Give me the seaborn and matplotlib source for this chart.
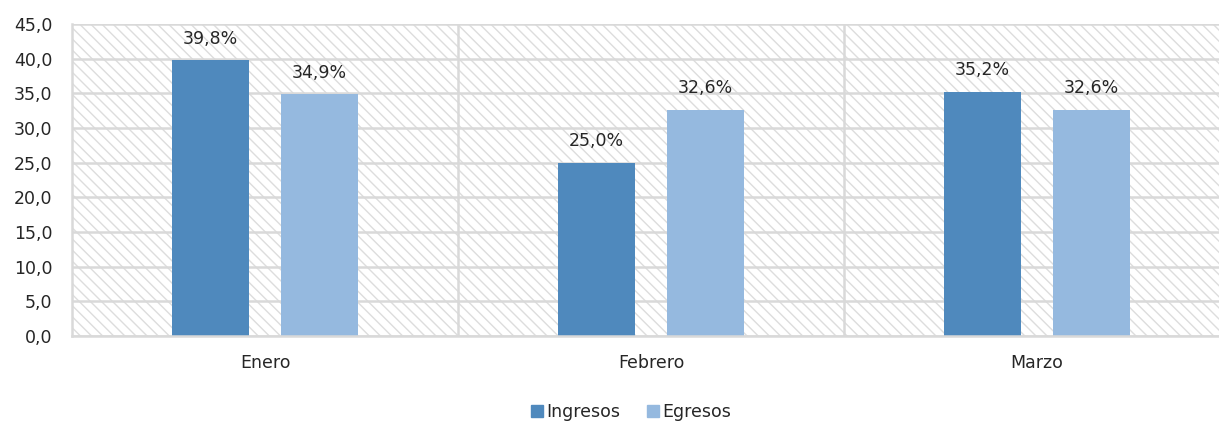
"""Ingresos vs Egresos por mes (barras agrupadas con fondo rayado)."""

import matplotlib
matplotlib.use("Agg")
import matplotlib.pyplot as plt
from matplotlib.patches import Rectangle
from matplotlib.ticker import FuncFormatter, MultipleLocator
import pandas as pd
import seaborn as sns

MESES = ["Enero", "Febrero", "Marzo"]
INGRESOS = [39.8, 25.0, 35.2]
EGRESOS = [34.9, 32.6, 32.6]
SERIES = ["Ingresos", "Egresos"]
PALETTE = {"Ingresos": "#4F89BD", "Egresos": "#95B9DF"}
GRID = "#D9D9D9"
FS = 12.5

sns.set_theme(style="white")
plt.rcParams["font.family"] = ["DejaVu Sans"]
plt.rcParams["hatch.linewidth"] = 1.0


def coma(v, _=None):
    return f"{v:.1f}".replace(".", ",")


def main():
    df = pd.DataFrame({
        "mes": MESES * 2,
        "serie": ["Ingresos"] * len(MESES) + ["Egresos"] * len(MESES),
        "valor": INGRESOS + EGRESOS,
    })

    fig = plt.figure(figsize=(12.19, 4.24), dpi=100)
    # el area del grafico se sale por la derecha, como en el original
    ax = fig.add_axes([72 / 1219, 88 / 424, 1158 / 1219, 312 / 424])

    # fondo rayado
    ax.add_patch(Rectangle((0, 0), 1, 1, transform=ax.transAxes,
                           facecolor="white", edgecolor="#DDDDDD", linewidth=0,
                           hatch="\\\\\\", zorder=0))

    sns.barplot(data=df, x="mes", y="valor", hue="serie", order=MESES,
                hue_order=SERIES, palette=PALETTE, width=0.564, gap=0.3,
                saturation=1, linewidth=0, ax=ax, zorder=2, legend=True)

    ax.set_xlim(-0.5, len(MESES) - 0.5)
    ax.set_ylim(0, 45)
    ax.yaxis.set_major_locator(MultipleLocator(5))
    ax.yaxis.set_major_formatter(FuncFormatter(coma))
    ax.grid(axis="y", color=GRID, linewidth=1.8, zorder=1)
    for xb in [i + 0.5 for i in range(len(MESES) - 1)]:
        ax.axvline(xb, color=GRID, linewidth=1.8, zorder=1)
    for side in ["top", "right"]:
        ax.spines[side].set_visible(False)
    for side in ["left", "bottom"]:
        ax.spines[side].set_color(GRID)
        ax.spines[side].set_linewidth(1.8)

    ax.set_xlabel("")
    ax.set_ylabel("")
    ax.tick_params(axis="y", length=0, pad=14, labelsize=FS, labelcolor="#262626")
    ax.tick_params(axis="x", length=0, pad=13, labelsize=FS, labelcolor="#262626")

    for cont in ax.containers:
        vals = [b.get_height() for b in cont]
        ax.bar_label(cont, labels=[coma(v) + "%" for v in vals], padding=9,
                     fontsize=FS, color="#262626")

    ax.legend_.remove()
    handles = [Rectangle((0, 0), 1, 1, color=PALETTE[s]) for s in SERIES]
    fig.legend(handles, SERIES, loc="center", bbox_to_anchor=(631 / 1219, 12 / 424),
               ncol=2, frameon=False, fontsize=FS, handlelength=0.7,
               handleheight=0.7, handletextpad=0.2, columnspacing=1.5,
               labelcolor="#262626")

    fig.savefig("out.png", dpi=100)
    plt.close(fig)


if __name__ == "__main__":
    main()
